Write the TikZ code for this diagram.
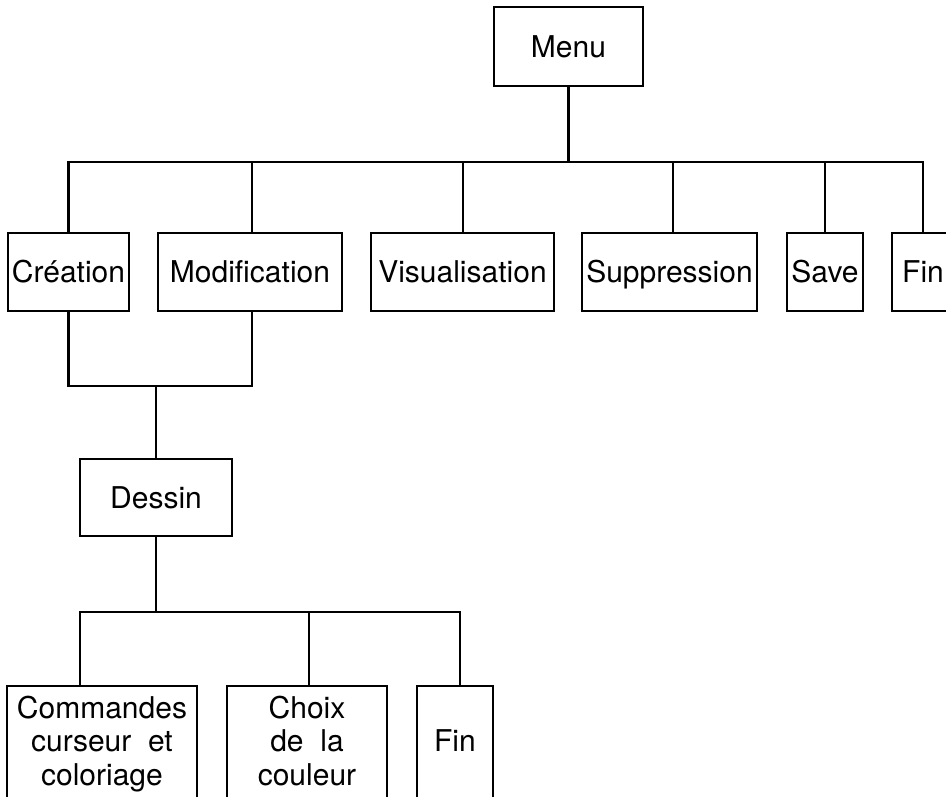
\documentclass[tikz,border=0pt]{standalone}
\usepackage{fontspec}
\setmainfont{TeX Gyre Heros}
\begin{document}
\begin{tikzpicture}[x=1pt,y=-1pt,
  line width=2.2pt,
  every node/.style={font=\fontsize{30}{33.5}\selectfont},
  box/.style={draw, rectangle, inner sep=0pt, text height=21.6pt, text depth=0pt},
  rowbox/.style={box, minimum height=78pt},
  lowbox/.style={draw, rectangle, anchor=north, inner xsep=0pt, inner ysep=10.4pt,
                 text height=21.6pt, text depth=130pt}
]
\useasboundingbox (0,0) rectangle (946,797);
\clip (0,0) rectangle (946,797);

% nodes
\node[box, minimum width=149pt, minimum height=79pt] (menu) at (568.5,46.5) {Menu};

\node[rowbox, minimum width=121pt] (creation) at (68.5,272) {Création};
\node[rowbox, minimum width=184pt] (modif)    at (250,272)  {Modification};
\node[rowbox, minimum width=183pt] (visu)     at (462.5,272) {Visualisation};
\node[rowbox, minimum width=175pt] (suppr)    at (669.5,272) {Suppression};
\node[rowbox, minimum width=76pt]  (save)     at (825,272)  {Save};
\node[rowbox, minimum width=62pt]  (fin)      at (923,272)  {Fin};

\node[box, minimum width=152pt, minimum height=77pt] (dessin) at (156,497.5) {Dessin};

\node[lowbox, minimum width=190pt] (cmd)   at (102,685)
  {\begin{tabular}[t]{@{}c@{}}Commandes\\curseur\ \ et\\coloriage\end{tabular}};
\node[lowbox, minimum width=160pt] (choix) at (307,685)
  {\begin{tabular}[t]{@{}c@{}}Choix\\de\ \ la\\couleur\end{tabular}};
\node[lowbox, minimum width=76pt, text height=55pt] (fin2) at (455,685) {Fin};

% bus levels
\coordinate (bus1) at (0,162);
\coordinate (mb) at (252,386);
\coordinate (s1) at (80,612);
\coordinate (s2) at (309,612);
\coordinate (s3) at (460,612);
\coordinate (vs) at (463,0);
\coordinate (ss) at (673,0);
\coordinate (ms) at (252,0);

% top level connectors
\draw (menu.south) -- (menu.south |- bus1);
\draw (creation.north) |- (fin.north |- bus1) -- (fin.north);
\draw (modif.north -| ms) -- (ms |- bus1);
\draw (visu.north -| vs) -- (vs |- bus1);
\draw (suppr.north -| ss) -- (ss |- bus1);
\draw (save.north) -- (save.north |- bus1);

% creation / modification to dessin
\draw (creation.south) |- (mb) -- (modif.south -| mb);
\draw (dessin.north) -- (dessin.north |- mb);

% dessin to sub-boxes
\draw (dessin.south) -- (dessin.south |- s1);
\draw (cmd.north -| s1) -- (s1) -- (s3) -- (fin2.north -| s3);
\draw (choix.north -| s2) -- (s2);
\end{tikzpicture}
\end{document}
